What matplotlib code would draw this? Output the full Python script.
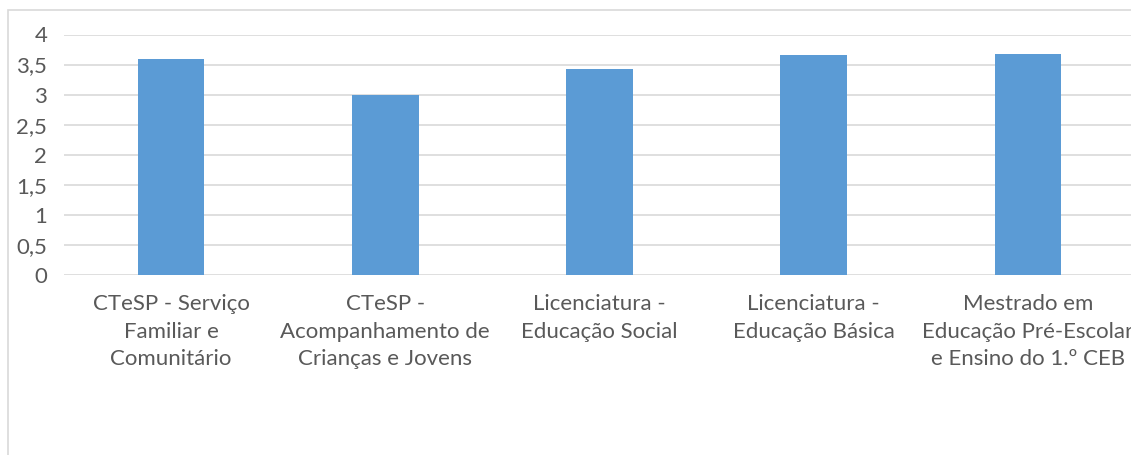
import matplotlib.pyplot as plt
from matplotlib.patches import Rectangle

categories = ['CTeSP - Serviço\nFamiliar e\nComunitário',
              'CTeSP -\nAcompanhamento de\nCrianças e Jovens',
              'Licenciatura -\nEducação Social',
              'Licenciatura -\nEducação Básica',
              'Mestrado em\nEducação Pré-Escolar\ne Ensino do 1.º CEB']
values = [3.59, 2.99, 3.43, 3.66, 3.67]
yticks = [0, 0.5, 1, 1.5, 2, 2.5, 3, 3.5, 4]
ytick_labels = ['0', '0,5', '1', '1,5', '2', '2,5', '3', '3,5', '4']

plt.rcParams['font.family'] = ['Lato', 'DejaVu Sans']

fig = plt.figure(figsize=(11.31, 4.55), dpi=100)
# chart frame, as in the spreadsheet export
fig.patches.append(Rectangle((8 / 1131, -0.1), 1.2, 1 - 10 / 455 + 0.1,
                             transform=fig.transFigure, fill=False,
                             edgecolor='#d9d9d9', lw=1.2))

ax = fig.add_axes([64 / 1131, 1 - 275 / 455, 1071 / 1131, 240.5 / 455])
x = range(len(categories))
ax.bar(x, values, width=0.31, color='#5b9bd5', zorder=3)

ax.set_xlim(-0.5, len(categories) - 0.5)
ax.set_ylim(0, 4)
ax.set_yticks(yticks)
ax.set_yticklabels(ytick_labels)
ax.set_xticks(list(x))
ax.set_xticklabels(categories)
ax.grid(axis='y', color='#d9d9d9', lw=1.2, zorder=0)
for s in ax.spines.values():
    s.set_visible(False)
ax.tick_params(axis='both', length=0, labelsize=16, colors='#595959')
ax.tick_params(axis='x', pad=14)
ax.tick_params(axis='y', pad=12)
for lbl in ax.get_xticklabels():
    lbl.set_linespacing(1.45)

fig.savefig('out.png', dpi=100)
